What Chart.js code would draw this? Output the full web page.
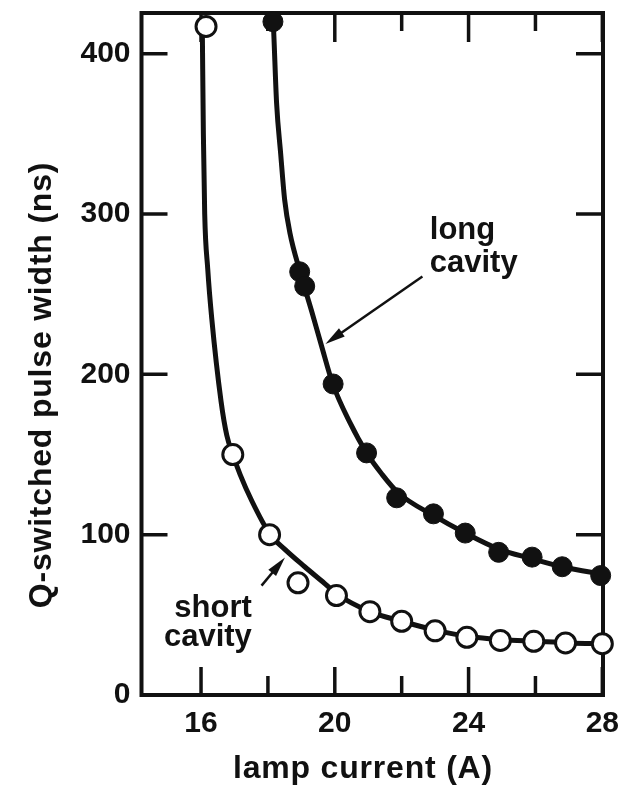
<!DOCTYPE html>
<html>
<head>
<meta charset="utf-8">
<script src="https://cdn.jsdelivr.net/npm/chart.js@4.4.1/dist/chart.umd.min.js"></script>
<style>
  html, body { margin: 0; padding: 0; background: #fff; }
  #chart { display: block; }
</style>
</head>
<body>
<canvas id="chart" width="631" height="788"></canvas>
<script>
// measured points, lamp current (A) vs Q-switched pulse width (ns)
const shortCurrent = [16.15, 16.95, 18.05, 18.9, 20.05, 21.05, 22.0, 23.0, 23.95, 24.95, 25.95, 26.9, 28.0];
const shortWidth = [417, 150, 100, 70, 62, 52, 46, 40, 36, 34, 33.5, 32.5, 32];
const longCurrent = [18.15, 18.95, 19.1, 19.95, 20.95, 21.85, 22.95, 23.9, 24.9, 25.9, 26.8, 27.95];
const longWidth = [420, 264, 255, 194, 151, 123, 113, 101, 89, 86, 80, 74.5];

// hand-drawn fit curves
const shortFitX = [16.04, 16.07, 16.11, 16.2, 16.32, 16.6, 16.77, 16.95, 17.17, 17.52, 18.06, 18.5, 19.1, 19.7, 20.06, 21.05, 22, 23, 24, 25, 26, 27, 28.1];
const shortFitY = [412, 350, 300, 266, 235, 183, 162, 150, 137.5, 121, 100.3, 91, 80, 69.5, 63, 52, 46, 40.5, 36.5, 34.5, 33.5, 32.5, 32];
const longFitX = [18.1, 18.16, 18.26, 18.38, 18.5, 18.66, 18.96, 19.3, 19.6, 19.94, 20.45, 20.95, 21.4, 21.9, 22.95, 23.9, 24.9, 25.9, 26.8, 28.1];
const longFitY = [440, 420, 369, 338, 309, 288, 264, 240, 218, 194, 170, 151, 138, 126, 112, 101, 91, 85, 80, 75];

// axes
const xTickValues = [16, 20, 24, 28];
const xMinorTicks = [18, 22, 26];
const yTickValues = [0, 100, 200, 300, 400];
const yInnerTicks = [100, 200, 300, 400];

const ink = '#111';
const fontFamily = '"Liberation Sans", Arial, Helvetica, sans-serif';

const toPoints = (xs, ys) => xs.map((x, i) => ({ x: x, y: ys[i] }));

// frame with inward ticks on all four sides
const framePlugin = {
    id: 'frame',
    beforeDatasetsDraw(chart) {
        const { ctx, chartArea: a, scales } = chart;
        const xs = scales.x, ys = scales.y;
        ctx.save();
        ctx.strokeStyle = ink;
        ctx.lineCap = 'butt';
        ctx.lineWidth = 3.5;

        const vTick = (v, y0, len) => {
            const px = xs.getPixelForValue(v);
            ctx.beginPath();
            ctx.moveTo(px, y0);
            ctx.lineTo(px, y0 + len);
            ctx.stroke();
        };
        xTickValues.forEach(v => { vTick(v, a.bottom, -28); vTick(v, a.top, 29); });
        xMinorTicks.forEach(v => { vTick(v, a.bottom, -19); vTick(v, a.top, 18); });
        vTick(18, a.top, 18);

        yInnerTicks.forEach(v => {
            const py = ys.getPixelForValue(v);
            ctx.beginPath();
            ctx.moveTo(a.left, py);
            ctx.lineTo(a.left + 26, py);
            ctx.moveTo(a.right, py);
            ctx.lineTo(a.right - 27, py);
            ctx.stroke();
        });

        ctx.lineWidth = 4;
        ctx.strokeRect(a.left, a.top, a.right - a.left, a.bottom - a.top);
        ctx.restore();
    }
};

// axis titles, curve labels and arrows
const labelPlugin = {
    id: 'labels',
    afterDraw(chart) {
        const { ctx, scales } = chart;
        const X = v => scales.x.getPixelForValue(v);
        const Y = v => scales.y.getPixelForValue(v);
        ctx.save();
        ctx.fillStyle = ink;
        ctx.strokeStyle = ink;

        ctx.font = 'bold 32px ' + fontFamily;
        ctx.letterSpacing = '0.8px';
        ctx.textAlign = 'center';
        ctx.textBaseline = 'alphabetic';
        ctx.fillText('lamp current (A)', 363, 778);

        ctx.save();
        ctx.translate(51, 385);
        ctx.rotate(-Math.PI / 2);
        ctx.fillText('Q-switched pulse width (ns)', 0, 0);
        ctx.restore();

        ctx.letterSpacing = '0px';
        ctx.font = 'bold 31px ' + fontFamily;
        ctx.textAlign = 'left';
        ctx.fillText('long', X(22.84), Y(284.7));
        ctx.fillText('cavity', X(22.84), Y(263.6));
        ctx.textAlign = 'right';
        ctx.fillText('short', X(17.52), Y(48.4));
        ctx.fillText('cavity', X(17.52), Y(30.4));

        const arrow = (x0, y0, x1, y1) => {
            const ax = X(x0), ay = Y(y0), bx = X(x1), by = Y(y1);
            const ang = Math.atan2(by - ay, bx - ax);
            const hl = 20, hw = 5;
            ctx.lineWidth = 2.5;
            ctx.beginPath();
            ctx.moveTo(ax, ay);
            ctx.lineTo(bx - Math.cos(ang) * hl * 0.8, by - Math.sin(ang) * hl * 0.8);
            ctx.stroke();
            ctx.beginPath();
            ctx.moveTo(bx, by);
            ctx.lineTo(bx - Math.cos(ang) * hl - Math.sin(ang) * hw, by - Math.sin(ang) * hl + Math.cos(ang) * hw);
            ctx.lineTo(bx - Math.cos(ang) * hl + Math.sin(ang) * hw, by - Math.sin(ang) * hl - Math.cos(ang) * hw);
            ctx.closePath();
            ctx.fill();
        };
        arrow(22.62, 261.1, 19.72, 219);
        arrow(17.81, 68.2, 18.51, 85.8);
        ctx.restore();
    }
};

const noPad = axis => {
    axis.paddingTop = 0;
    axis.paddingBottom = 0;
    axis.paddingLeft = 0;
    axis.paddingRight = 0;
};

new Chart(document.getElementById('chart'), {
    type: 'scatter',
    data: {
        datasets: [
            {
                label: 'short cavity',
                data: toPoints(shortCurrent, shortWidth),
                pointRadius: 10,
                pointBorderWidth: 3,
                pointBackgroundColor: '#fff',
                pointBorderColor: ink,
                clip: false,
                order: 0
            },
            {
                label: 'long cavity',
                data: toPoints(longCurrent, longWidth),
                pointRadius: 10,
                pointBorderWidth: 1,
                pointBackgroundColor: ink,
                pointBorderColor: ink,
                clip: false,
                order: 0
            },
            {
                label: 'short fit',
                data: toPoints(shortFitX, shortFitY),
                showLine: true,
                pointRadius: 0,
                borderColor: ink,
                borderWidth: 5,
                cubicInterpolationMode: 'monotone',
                clip: 0,
                order: 1
            },
            {
                label: 'long fit',
                data: toPoints(longFitX, longFitY),
                showLine: true,
                pointRadius: 0,
                borderColor: ink,
                borderWidth: 5,
                cubicInterpolationMode: 'monotone',
                clip: 0,
                order: 1
            }
        ]
    },
    options: {
        responsive: false,
        animation: false,
        devicePixelRatio: 1,
        layout: { padding: { left: 0, right: 28, top: 9, bottom: 0 } },
        plugins: {
            legend: { display: false },
            tooltip: { enabled: false }
        },
        scales: {
            x: {
                type: 'linear',
                min: 14.22,
                max: 28.02,
                grid: { display: false, drawTicks: false },
                border: { display: false },
                afterBuildTicks: axis => { axis.ticks = xTickValues.map(v => ({ value: v })); },
                afterFit: axis => { axis.height = 93; noPad(axis); },
                ticks: {
                    autoSkip: false,
                    maxRotation: 0,
                    padding: 11,
                    color: ink,
                    font: { family: fontFamily, size: 30, weight: 'bold' }
                }
            },
            y: {
                type: 'linear',
                min: 0,
                max: 425.4,
                grid: { display: false, drawTicks: false },
                border: { display: false },
                afterBuildTicks: axis => { axis.ticks = yTickValues.map(v => ({ value: v })); },
                afterFit: axis => { axis.width = 141.5; noPad(axis); },
                ticks: {
                    autoSkip: false,
                    padding: 11,
                    color: ink,
                    font: { family: fontFamily, size: 30, weight: 'bold' }
                }
            }
        }
    },
    plugins: [framePlugin, labelPlugin]
});
</script>
</body>
</html>
